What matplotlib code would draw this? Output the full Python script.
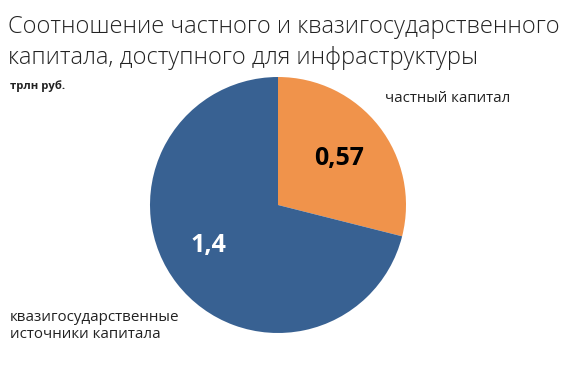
import matplotlib.pyplot as plt

plt.rcParams['font.family'] = ['Open Sans', 'DejaVu Sans']

categories = ['частный капитал', 'квазигосударственные\nисточники капитала']
values = [0.57, 1.4]
value_labels = ['0,57', '1,4']
colors = ['#F0934B', '#386192']

W, H = 570, 372
fig = plt.figure(figsize=(W / 100, H / 100), dpi=100)

# pie axes: centre (278, 205) px, radius 128 px
cx, cy, r = 278, 205, 128
ax = fig.add_axes([(cx - r) / W, (H - cy - r) / H, 2 * r / W, 2 * r / H])
wedges, _ = ax.pie(values, colors=colors, startangle=90, counterclock=False,
                   radius=1, wedgeprops=dict(linewidth=0))
ax.set_xlim(-1, 1)
ax.set_ylim(-1, 1)
ax.set_aspect('equal')
ax.axis('off')

ax.text(0.477, 0.36, value_labels[0], ha='center', va='center',
        fontsize=18, fontweight='bold', color='black')
ax.text(-0.54, -0.32, value_labels[1], ha='center', va='center',
        fontsize=18, fontweight='bold', color='white')


def px(x, y):
    return x / W, 1 - y / H


fig.text(*px(8, 27), 'Соотношение частного и квазигосударственного',
         fontsize=17, fontweight='light', color='#222222', va='center', ha='left')
fig.text(*px(8, 58), 'капитала, доступного для инфраструктуры',
         fontsize=17, fontweight='light', color='#222222', va='center', ha='left')
fig.text(*px(10, 86), 'трлн руб.', fontsize=8.2, fontweight='bold',
         color='#222222', va='center', ha='left')

fig.text(*px(385, 99), categories[0], fontsize=10.8, color='#222222',
         va='center', ha='left')
fig.text(*px(10, 326), categories[1], fontsize=10.9, color='#222222',
         va='center', ha='left', linespacing=1.2)

fig.savefig('out.png', dpi=100, facecolor='white')
